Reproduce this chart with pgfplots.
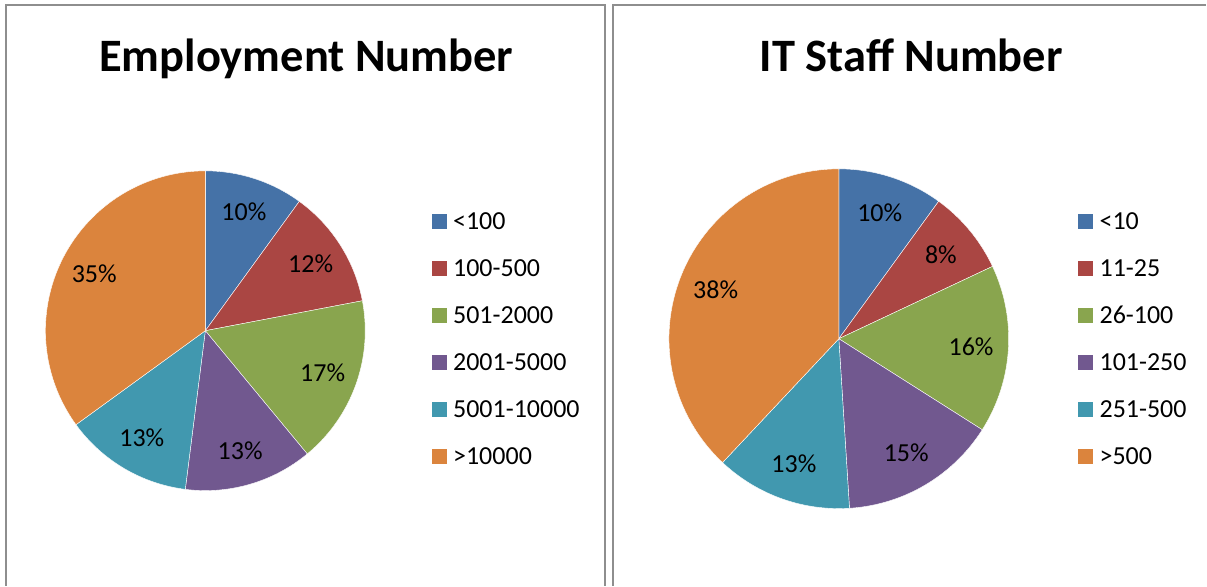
\documentclass[border=0pt]{standalone}
\usepackage{fontspec}
\setmainfont{Carlito}
\usepackage{pgfplots}
\pgfplotsset{compat=1.18}

\definecolor{cA}{HTML}{4572A7}
\definecolor{cB}{HTML}{AA4643}
\definecolor{cC}{HTML}{89A54E}
\definecolor{cD}{HTML}{71588F}
\definecolor{cE}{HTML}{4198AF}
\definecolor{cF}{HTML}{DB843D}
\definecolor{frame}{HTML}{8E8E8E}

\newcommand{\lblfont}{\fontsize{26bp}{30bp}\selectfont}
\newcommand{\ttlfont}{\fontsize{46.5bp}{54bp}\selectfont\bfseries}

% #1 cx, #2 cy, #3 r, #4 start %, #5 end %, #6 colour, #7 value label, #8 legend text
\newcommand{\slice}[8]{%
  \addplot[fill=#6, draw=white, line width=0.4bp, domain=#4:#5, samples=90, variable=\t]
    ({#1+#3*sin(3.6*\t)}, {#2-#3*cos(3.6*\t)}) -- (axis cs:#1,#2) -- cycle;
  \addlegendentry{#8}
  \node[font=\lblfont, inner sep=0pt] at (axis cs:{#1+0.78*#3*sin(1.8*(#4+#5))},{#2-0.78*#3*cos(1.8*(#4+#5))}) {#7};
}

\pgfplotsset{
  piebase/.style={
    scale only axis, width=1207bp, height=586bp,
    xmin=0, xmax=1207, ymin=0, ymax=586, y dir=reverse,
    hide axis, clip=false,
    legend cell align=left,
    legend image code/.code={\fill[##1, draw=none] (0bp,-7.5bp) rectangle (15bp,7.5bp);},
    legend style={draw=none, fill=none, inner sep=0pt, outer sep=0pt, anchor=north west,
      font=\lblfont, row sep=24.6bp, column sep=6.5bp,
      nodes={inner sep=0pt, outer sep=0pt, text height=19.4bp, text depth=3bp}},
  }
}

\begin{document}
\begin{tikzpicture}
% ---------- left chart ----------
\begin{axis}[piebase, legend style={at={(axis cs:432,210.3)}}]
  \path (axis cs:0,0) rectangle (axis cs:1207,586);
  \draw[frame, line width=2bp] (axis cs:6.5,586) -- (axis cs:6.5,5.5) -- (axis cs:605.5,5.5) -- (axis cs:605.5,586);
  \node[font=\ttlfont, anchor=base] at (axis cs:306.5,72) {Employment Number};
  \slice{205.5}{331}{160}{0}{10}{cA}{10\%}{<100}
  \slice{205.5}{331}{160}{10}{22}{cB}{12\%}{100-500}
  \slice{205.5}{331}{160}{22}{39}{cC}{17\%}{501-2000}
  \slice{205.5}{331}{160}{39}{52}{cD}{13\%}{2001-5000}
  \slice{205.5}{331}{160}{52}{65}{cE}{13\%}{5001-10000}
  \slice{205.5}{331}{160}{65}{100}{cF}{35\%}{>10000}
\end{axis}
% ---------- right chart ----------
\begin{axis}[piebase, legend style={at={(axis cs:1079,210.3)}}]
  \draw[frame, line width=2bp] (axis cs:613,586) -- (axis cs:613,5.5) -- (axis cs:1207,5.5);
  \node[font=\ttlfont, anchor=base] at (axis cs:912,72) {IT Staff Number};
  \slice{839.5}{339}{170}{0}{10}{cA}{10\%}{<10}
  \slice{839.5}{339}{170}{10}{18}{cB}{8\%}{11-25}
  \slice{839.5}{339}{170}{18}{34}{cC}{16\%}{26-100}
  \slice{839.5}{339}{170}{34}{49}{cD}{15\%}{101-250}
  \slice{839.5}{339}{170}{49}{62}{cE}{13\%}{251-500}
  \slice{839.5}{339}{170}{62}{100}{cF}{38\%}{>500}
\end{axis}
\end{tikzpicture}
\end{document}
